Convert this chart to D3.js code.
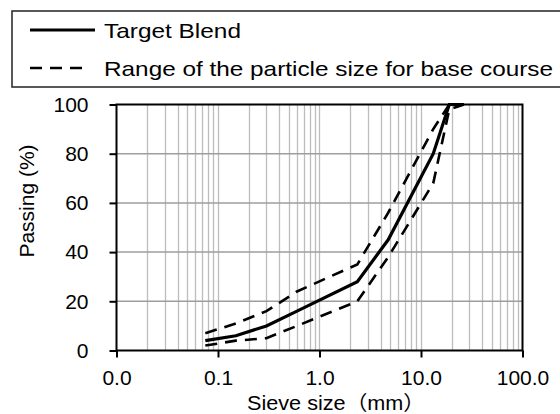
<!DOCTYPE html>
<html>
<head>
<meta charset="utf-8">
<script src="https://cdn.jsdelivr.net/npm/d3@7"></script>
<style>
  html, body { margin: 0; padding: 0; background: #fff; }
  svg { display: block; }
  text { font-family: "Liberation Sans", Arial, "Noto Sans CJK JP", sans-serif; fill: #000; }
</style>
</head>
<body>
<svg id="chart" width="560" height="414"></svg>
<script>
// ---- data ----
const sieveSizes   = [0.075, 0.15, 0.3, 0.6, 2.36, 4.75, 13.2, 19, 26.5];
const targetBlend  = [4, 6, 10, 16, 28, 45, 80, 100, 100];
const upperLimit   = [7, 11, 16, 24, 35, 56, 90, 100, 100];
const lowerLimit   = [2, 4, 5, 10, 20, 38, 68, 98, 100];
const xTickValues  = [0.01, 0.1, 1, 10, 100];
const yTickValues  = [0, 20, 40, 60, 80, 100];
const legendLabels = ["Target Blend", "Range of the particle size for base course"];
const xTitle = "Sieve size（mm）";
const yTitle = "Passing (%)";

// ---- layout ----
const svg = d3.select("#chart");
const pLeft = 116.5, pRight = 522.5, pTop = 104.5, pBottom = 350.5;

const x = d3.scaleLog().domain([0.01, 100]).range([pLeft, pRight]);
const y = d3.scaleLinear().domain([0, 100]).range([pBottom, pTop]);

// vertical grid (log minor ticks)
svg.append("g").selectAll("line")
  .data(x.ticks().filter(d => d > 0.01 && d < 100))
  .join("line")
  .attr("x1", d => Math.round(x(d)) + 0.5).attr("x2", d => Math.round(x(d)) + 0.5)
  .attr("y1", pTop).attr("y2", pBottom)
  .attr("stroke", "#bdbdbd").attr("stroke-width", 1.3);

// horizontal grid
svg.append("g").selectAll("line")
  .data(yTickValues.filter(d => d > 0 && d < 100))
  .join("line")
  .attr("x1", pLeft).attr("x2", pRight)
  .attr("y1", d => y(d)).attr("y2", d => y(d))
  .attr("stroke", "#9e9e9e").attr("stroke-width", 1.5);

// data lines
const line = d3.line().x(d => x(d[0])).y(d => y(d[1]));
const zip = vals => sieveSizes.map((s, i) => [s, vals[i]]);

svg.append("path").datum(zip(upperLimit))
  .attr("d", line).attr("fill", "none").attr("stroke", "#000")
  .attr("stroke-width", 2.6).attr("stroke-dasharray", "12,8");
svg.append("path").datum(zip(lowerLimit))
  .attr("d", line).attr("fill", "none").attr("stroke", "#000")
  .attr("stroke-width", 2.6).attr("stroke-dasharray", "12,8");
svg.append("path").datum(zip(targetBlend))
  .attr("d", line).attr("fill", "none").attr("stroke", "#000")
  .attr("stroke-width", 3.2);

// frame
svg.append("rect").attr("x", pLeft).attr("y", pTop)
  .attr("width", pRight - pLeft).attr("height", pBottom - pTop)
  .attr("fill", "none").attr("stroke", "#000").attr("stroke-width", 2);

// axes
const xAxis = d3.axisBottom(x).tickValues(xTickValues)
  .tickFormat(d3.format(".1f")).tickSize(7).tickPadding(13);
const gx = svg.append("g").attr("transform", `translate(0,${pBottom})`).call(xAxis);
gx.select(".domain").remove();
gx.selectAll(".tick line").attr("stroke", "#000").attr("stroke-width", 2);
gx.selectAll(".tick text").attr("font-size", 21).attr("font-family", "Liberation Sans, Arial, sans-serif");

const yAxis = d3.axisLeft(y).tickValues(yTickValues).tickSize(7).tickPadding(21);
const gy = svg.append("g").attr("transform", `translate(${pLeft},0)`).call(yAxis);
gy.select(".domain").remove();
gy.selectAll(".tick line").attr("stroke", "#000").attr("stroke-width", 2);
gy.selectAll(".tick text").attr("font-size", 21).attr("font-family", "Liberation Sans, Arial, sans-serif");

// axis titles
svg.append("text").attr("x", 336).attr("y", 409.5).attr("text-anchor", "middle")
  .attr("font-size", 20).attr("textLength", 178).attr("lengthAdjust", "spacingAndGlyphs")
  .text(xTitle);
svg.append("text").attr("transform", "translate(34,201) rotate(-90)")
  .attr("text-anchor", "middle").attr("font-size", 21)
  .text(yTitle);

// legend
const lg = svg.append("g");
lg.append("rect").attr("x", 12).attr("y", 11).attr("width", 560).attr("height", 76)
  .attr("fill", "#fff").attr("stroke", "#222").attr("stroke-width", 1.5);
lg.append("line").attr("x1", 30).attr("x2", 95).attr("y1", 30).attr("y2", 30)
  .attr("stroke", "#000").attr("stroke-width", 3.2);
lg.append("line").attr("x1", 30).attr("x2", 90).attr("y1", 68).attr("y2", 68)
  .attr("stroke", "#000").attr("stroke-width", 2.6).attr("stroke-dasharray", "12,8");
lg.append("text").attr("x", 104).attr("y", 38).attr("font-size", 21)
  .attr("textLength", 137).attr("lengthAdjust", "spacingAndGlyphs").text(legendLabels[0]);
lg.append("text").attr("x", 104).attr("y", 76).attr("font-size", 21)
  .attr("textLength", 449).attr("lengthAdjust", "spacingAndGlyphs").text(legendLabels[1]);
</script>
</body>
</html>
